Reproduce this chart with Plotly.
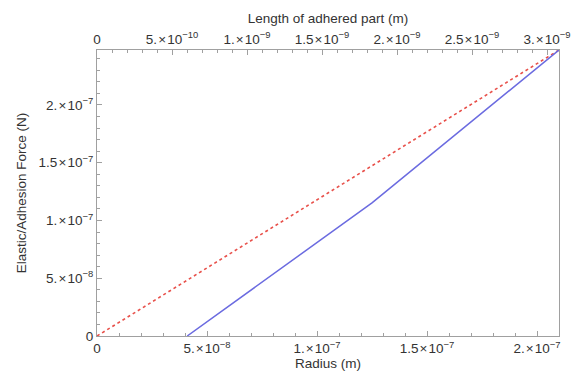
import plotly.graph_objects as go

# ---- data ----
radius_elastic = [4.1e-8, 1.25e-7, 2.1e-7]
force_elastic = [0.0, 1.152e-7, 2.476e-7]
radius_adhesion = [0.0, 2.1e-7]
force_adhesion = [0.0, 2.476e-7]

T = "\u200a×\u200a"
x_tickvals = [0, 5e-8, 1e-7, 1.5e-7, 2e-7]
x_ticktext = ["0", f"5.{T}10<sup>−8</sup>", f"1.{T}10<sup>−7</sup>", f"1.5{T}10<sup>−7</sup>", f"2.{T}10<sup>−7</sup>"]
y_tickvals = [0, 5e-8, 1e-7, 1.5e-7, 2e-7]
y_ticktext = ["0", f"5.{T}10<sup>−8</sup>", f"1.{T}10<sup>−7</sup>", f"1.5{T}10<sup>−7</sup>", f"2.{T}10<sup>−7</sup>"]
top_tickvals = [0, 5e-10, 1e-9, 1.5e-9, 2e-9, 2.5e-9, 3e-9]
top_ticktext = ["0", f"5.{T}10<sup>−10</sup>", f"1.{T}10<sup>−9</sup>", f"1.5{T}10<sup>−9</sup>",
                f"2.{T}10<sup>−9</sup>", f"2.5{T}10<sup>−9</sup>", f"3.{T}10<sup>−9</sup>"]

x_range = [0, 2.1e-7]
y_range = [0, 2.476e-7]
top_range = [0, 3.08e-9]

FONT = "Liberation Sans, Arial, sans-serif"
TXT = "#333333"
AX = "#a0a0a0"

fig = go.Figure()
fig.add_trace(go.Scatter(x=radius_adhesion, y=force_adhesion, mode="lines",
                         line=dict(color="#e8504a", width=1.6, dash="dot"),
                         showlegend=False, hoverinfo="skip"))
fig.add_trace(go.Scatter(x=radius_elastic, y=force_elastic, mode="lines",
                         line=dict(color="#6b6be0", width=1.5),
                         showlegend=False, hoverinfo="skip"))
# invisible trace to activate the top axis
fig.add_trace(go.Scatter(x=top_range, y=[None, None], xaxis="x2", mode="lines",
                         showlegend=False, hoverinfo="skip"))

minor_x = [i * 1e-8 for i in range(0, 22)]
minor_y = [i * 1e-8 for i in range(0, 25)]
minor_top = [i * 1e-10 for i in range(0, 31)]

axis_common = dict(showgrid=False, zeroline=False, showline=True, linecolor=AX, linewidth=1,
                   ticks="inside", ticklen=5, tickcolor=AX, tickwidth=1, automargin=False,
                   tickfont=dict(family=FONT, size=13.5, color=TXT))
title_font = dict(family=FONT, size=13.5, color=TXT)

# page body has an 8px default margin, so the figure is sized/offset to compensate
fig.update_layout(
    width=571, height=373,
    margin=dict(l=89, r=20, t=42, b=45),
    paper_bgcolor="white", plot_bgcolor="white",
    font=dict(family=FONT, size=13, color=TXT),
    xaxis=dict(range=x_range, tickmode="array", tickvals=x_tickvals, ticktext=x_ticktext,
               minor=dict(tickmode="array", tickvals=minor_x, ticks="inside", ticklen=3, tickcolor=AX),
               title=dict(text="Radius (m)", font=title_font, standoff=2),
               **axis_common),
    xaxis2=dict(range=top_range, overlaying="x", side="top", anchor="y",
                tickmode="array", tickvals=top_tickvals, ticktext=top_ticktext,
                minor=dict(tickmode="array", tickvals=minor_top, ticks="inside", ticklen=3, tickcolor=AX),
                title=dict(text="Length of adhered part (m)", font=title_font, standoff=2),
                **axis_common),
    yaxis=dict(range=y_range, tickmode="array", tickvals=y_tickvals, ticktext=y_ticktext,
               minor=dict(tickmode="array", tickvals=minor_y, ticks="inside", ticklen=3, tickcolor=AX),
               mirror=True,
               title=dict(text="Elastic/Adhesion Force (N)", font=title_font, standoff=8),
               **axis_common),
)

fig.write_html("out.html")
